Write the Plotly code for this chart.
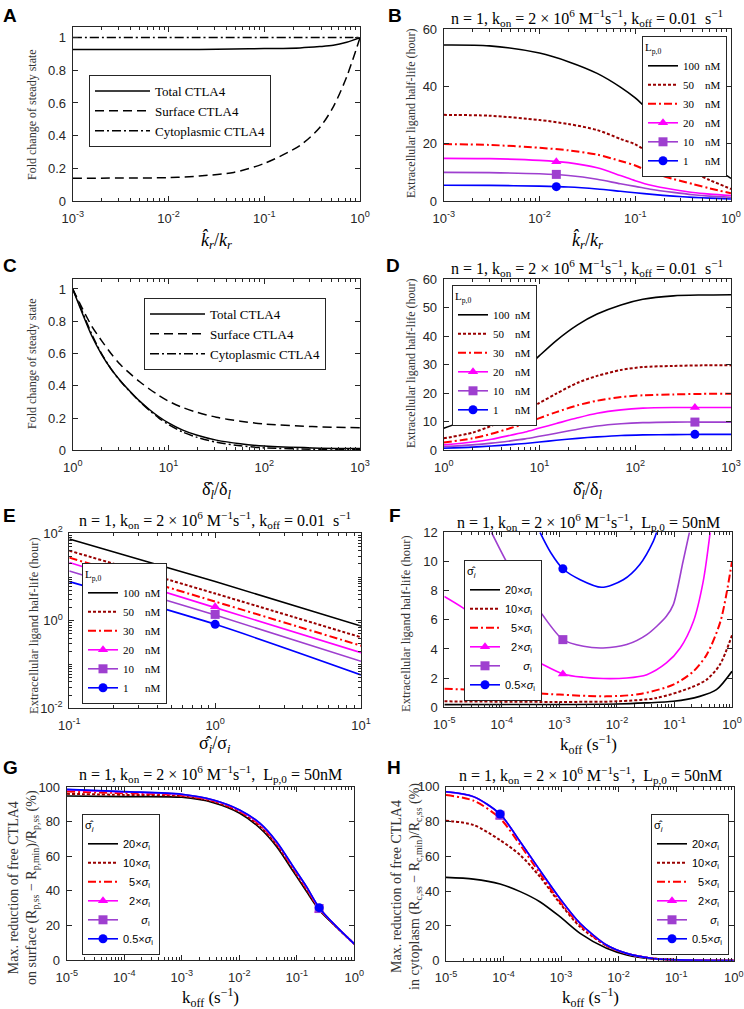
import plotly.graph_objects as go

W, H = 744, 1009
SERIF = "Liberation Serif, Times New Roman, serif"
SANS = "Liberation Sans, Arial, sans-serif"
FRAME = "#262626"
TXT = "#262626"

# ---------------- data ----------------
# Panel A
a_x = [0.001, 0.01, 0.021, 0.048, 0.1, 0.236, 0.38, 0.526, 0.726, 1.0]
a_total = [0.927, 0.927, 0.928, 0.930, 0.933, 0.937, 0.945, 0.953, 0.972, 1.0]
a_surface = [0.140, 0.143, 0.153, 0.175, 0.230, 0.340, 0.450, 0.576, 0.760, 1.0]
a_cyto = [1.0, 1.0, 1.0, 1.0, 1.0, 1.0, 1.0, 1.0, 1.0, 1.0]
ctla_names = ["Total CTLA4", "Surface CTLA4", "Cytoplasmic CTLA4"]

# Panel B
b_x = [0.001, 0.003, 0.01, 0.02, 0.04, 0.07, 0.1, 0.15, 0.25, 0.4, 0.6, 1.0]
b_100 = [54.5, 54.2, 51.7, 48.7, 44.6, 39.8, 36.0, 30.4, 23.1, 16.5, 12.8, 7.9]
b_50 = [30.1, 29.8, 28.3, 26.9, 24.8, 21.7, 19.8, 16.2, 12.8, 9.9, 7.3, 4.2]
b_30 = [19.9, 19.6, 18.6, 17.7, 16.2, 14.0, 12.4, 9.9, 7.7, 5.9, 4.4, 2.7]
b_20 = [14.9, 14.8, 14.2, 13.4, 11.6, 8.9, 7.1, 5.4, 4.0, 2.95, 2.4, 1.9]
b_10 = [10.0, 9.9, 9.5, 8.9, 7.6, 6.0, 5.1, 4.0, 3.0, 2.2, 1.7, 1.3]
b_1 = [5.5, 5.45, 5.2, 4.9, 4.2, 3.4, 2.9, 2.3, 1.7, 1.25, 1.0, 0.7]
b_mark_x = 0.015
b_mark_y = [13.7, 9.3, 5.0]

# Panel C
c_x = [1, 1.26, 1.58, 2.0, 2.51, 3.16, 3.98, 5.01, 6.31, 7.94, 10, 14.1, 20, 31.6, 56.2, 100, 316, 1000]
c_total = [1.0, 0.85, 0.71, 0.595, 0.505, 0.43, 0.365, 0.305, 0.253, 0.208, 0.17, 0.125, 0.093, 0.063,
           0.04, 0.026, 0.015, 0.011]
c_surface = [1.0, 0.88, 0.77, 0.68, 0.60, 0.53, 0.475, 0.425, 0.38, 0.34, 0.305, 0.265, 0.235, 0.205,
             0.18, 0.163, 0.147, 0.14]
c_cyto = [1.0, 0.86, 0.72, 0.60, 0.505, 0.428, 0.362, 0.302, 0.248, 0.20, 0.16, 0.113, 0.08, 0.05,
          0.028, 0.015, 0.007, 0.005]

# Panel D
d_x = [1, 2, 3.16, 5, 7.1, 10, 15, 25, 40, 71, 120, 250, 500, 1000]
d_100 = [7.7, 11.9, 17.5, 23.8, 28.5, 33.2, 38.5, 44.0, 47.8, 51.0, 53.0, 54.2, 54.5, 54.6]
d_50 = [4.2, 6.2, 8.6, 11.5, 13.9, 16.6, 19.9, 23.7, 26.1, 28.2, 29.2, 29.6, 29.8, 29.8]
d_30 = [2.7, 4.2, 5.8, 7.8, 9.4, 11.3, 13.4, 15.8, 17.4, 18.7, 19.3, 19.6, 19.8, 19.8]
d_20 = [1.9, 2.9, 3.9, 5.3, 6.4, 7.8, 9.4, 11.4, 13.0, 14.2, 14.8, 15.0, 15.0, 15.0]
d_10 = [1.3, 1.9, 2.5, 3.3, 4.0, 4.9, 6.0, 7.4, 8.5, 9.3, 9.7, 9.9, 9.9, 9.9]
d_1 = [0.7, 1.1, 1.5, 2.0, 2.4, 2.9, 3.5, 4.2, 4.7, 5.2, 5.4, 5.5, 5.6, 5.6]
d_mark_x = 420
d_mark_y = [15.0, 9.9, 5.6]

# Panel E
e_x = [0.1, 1.0, 10.0]
e_100 = [74.0, 7.9, 0.76]
e_50 = [40.0, 4.2, 0.42]
e_30 = [27.8, 2.75, 0.27]
e_20 = [21.4, 2.0, 0.187]
e_10 = [13.8, 1.35, 0.119]
e_1 = [7.86, 0.83, 0.058]
e_mark_x = 1.0
e_mark_y = [2.1, 1.4, 0.83]

conc_names = ["100\u00a0\u00a0nM", "50\u2007\u00a0\u00a0nM", "30\u2007\u00a0\u00a0nM",
              "20\u2007\u00a0\u00a0nM", "10\u2007\u00a0\u00a0nM", "1\u2007\u2007\u00a0\u00a0nM"]

# Panel F
f_x_05 = [4.6e-4, 7.1e-4, 1.15e-3, 2.3e-3, 5.4e-3, 0.0129, 0.025, 0.043, 0.049]
f_y_05 = [12.0, 10.6, 9.5, 8.75, 8.23, 8.75, 9.8, 11.4, 12.0]
f_x_1 = [6.6e-5, 1.2e-4, 2.34e-4, 4.57e-4, 1.15e-3, 2.63e-3, 5.75e-3, 0.0148, 0.0331, 0.0724, 0.0955, 0.141, 0.182]
f_y_1 = [12.0, 10.0, 8.07, 6.58, 4.64, 4.18, 4.07, 4.3, 4.98, 6.24, 7.04, 10.0, 12.0]
f_x_2 = [1e-5, 2.14e-5, 6.17e-5, 2.75e-4, 4.57e-4, 1.15e-3, 2.63e-3, 5.75e-3, 0.0148, 0.0331, 0.0724, 0.126, 0.214, 0.316, 0.417]
f_y_2 = [7.6, 6.8, 5.44, 3.5, 3.04, 2.29, 2.06, 1.97, 2.01, 2.24, 3.04, 4.07, 5.9, 8.64, 12.0]
f_x_5 = [1e-5, 1e-4, 1e-3, 6.6e-3, 0.025, 0.0955, 0.214, 0.363, 0.631, 1.0]
f_y_5 = [1.28, 1.1, 0.87, 0.75, 0.91, 1.55, 2.47, 3.61, 5.9, 10.0]
f_x_10 = [1e-5, 1e-3, 1e-2, 0.049, 0.186, 0.363, 0.617, 1.0]
f_y_10 = [0.41, 0.37, 0.41, 0.64, 1.33, 1.9, 2.93, 4.94]
f_x_20 = [1e-5, 1e-2, 0.0316, 0.0955, 0.275, 0.537, 1.0]
f_y_20 = [0.18, 0.23, 0.30, 0.41, 0.75, 1.21, 2.47]
f_mark_x = 1.15e-3
f_mark_y = [2.29, 4.64, 9.5]

sig_names = ["20×<i>σ</i><sub>i</sub>", "10×<i>σ</i><sub>i</sub>", "\u20075×<i>σ</i><sub>i</sub>",
             "\u20072×<i>σ</i><sub>i</sub>", "\u2007\u2007\u2007<i>σ</i><sub>i</sub>", "0.5×<i>σ</i><sub>i</sub>"]

# Panel G
g_x = [1e-5, 1e-4, 1e-3, 3.55e-3, 0.0102, 0.0229, 0.0447, 0.0871, 0.148, 0.245, 0.49, 1.0]
g_20 = [95.0, 94.6, 94.2, 91.1, 85.0, 76.3, 65.6, 51.2, 39.6, 29.0, 19.0, 9.3]
g_10 = [96.2, 95.6, 94.9, 91.7, 85.7, 77.3, 66.6, 52.3, 40.6, 29.5, 19.1, 9.3]
g_5 = [97.5, 96.6, 95.4, 92.2, 86.2, 78.2, 67.5, 53.2, 41.5, 29.9, 19.2, 9.3]
g_2 = [98.4, 97.3, 95.8, 92.5, 86.6, 78.8, 68.1, 53.7, 42.1, 30.1, 19.3, 9.3]
g_1 = [98.7, 97.4, 95.9, 92.6, 86.8, 79.0, 68.3, 53.9, 42.3, 30.2, 19.3, 9.3]
g_05 = [98.8, 97.5, 96.0, 92.7, 86.9, 79.2, 68.5, 54.0, 42.5, 30.3, 19.3, 9.3]
g_mark_x = 0.245
g_mark_y = [28.8, 29.8, 30.3]

# Panel H
h_x = [1e-5, 3.0e-5, 8.7e-5, 1.95e-4, 4.27e-4, 9.55e-4, 2.14e-3, 6.17e-3, 0.0138, 0.0398, 0.1, 1.0]
h_20 = [47.9, 46.9, 44.1, 39.7, 33.9, 25.3, 15.7, 7.1, 3.3, 1.0, 0.4, 0.1]
h_10 = [80.5, 78.0, 69.3, 60.7, 48.3, 33.0, 19.5, 8.6, 4.0, 1.3, 0.5, 0.1]
h_5 = [95.2, 92.0, 81.8, 66.5, 50.2, 33.9, 20.5, 8.6, 4.1, 1.3, 0.5, 0.1]
h_2 = [97.0, 94.2, 84.1, 68.2, 51.9, 35.6, 21.4, 9.0, 4.2, 1.3, 0.5, 0.1]
h_1 = [97.1, 94.3, 84.2, 68.3, 52.0, 35.7, 21.5, 9.0, 4.2, 1.3, 0.5, 0.1]
h_05 = [97.1, 94.3, 84.3, 68.4, 52.1, 35.8, 21.5, 9.0, 4.2, 1.3, 0.5, 0.1]
h_mark_x = 8.7e-5
h_mark_y = [82.6, 83.6, 84.3]

# tick labels
tick_kr = ["10<sup>-3</sup>", "10<sup>-2</sup>", "10<sup>-1</sup>", "10<sup>0</sup>"]
tick_dl = ["10<sup>0</sup>", "10<sup>1</sup>", "10<sup>2</sup>", "10<sup>3</sup>"]
tick_sig = ["10<sup>-1</sup>", "10<sup>0</sup>", "10<sup>1</sup>"]
tick_ey = ["10<sup>-2</sup>", "10<sup>0</sup>", "10<sup>2</sup>"]
tick_koff = ["10<sup>-5</sup>", "10<sup>-4</sup>", "10<sup>-3</sup>", "10<sup>-2</sup>", "10<sup>-1</sup>", "10<sup>0</sup>"]

# ---------------- styles ----------------
C_BLACK, C_DRED, C_RED, C_MAG, C_PUR, C_BLUE = "#000000", "#990000", "#FF0000", "#FF00FF", "#9E3FCF", "#0000FF"
DASH_DOT = "3px,2px"
DASH_DASHDOT = "8px,3px,2px,3px"

fig = go.Figure()


def px_x(p):
    return p / W


def px_y(p):
    return 1 - p / H


# plot area boxes (left, top, right, bottom) in pixels
boxes = {
    1: (72.7, 27, 360, 201),
    2: (443.7, 29.3, 731, 201),
    3: (72.7, 279.3, 360, 450.3),
    4: (443.7, 279.3, 731, 450.3),
    5: (69.3, 533.3, 361, 708.3),
    6: (444.3, 532.3, 732, 707.3),
    7: (66.7, 787.3, 354.3, 960),
    8: (446, 786.7, 733.7, 960.7),
}


def line(i, x, y, color, dash, width, name=None, legend=None, show=True):
    fig.add_trace(go.Scatter(
        x=x, y=y, mode="lines", name=name, legend=legend, showlegend=show and name is not None,
        line=dict(color=color, dash=dash, width=width, shape="spline", smoothing=0.8),
        xaxis="x%d" % i, yaxis="y%d" % i, hoverinfo="skip"))


def marked(i, x, y, mx, my, color, symbol, name, legend):
    line(i, x, y, color, "solid", 1.6, show=False)
    fig.add_trace(go.Scatter(
        x=[mx], y=[my], mode="lines+markers", name=name, legend=legend,
        marker=dict(symbol=symbol, size=9, color=color),
        line=dict(color=color, width=1.6),
        xaxis="x%d" % i, yaxis="y%d" % i, hoverinfo="skip", cliponaxis=False))


# Panel A
line(1, a_x, a_total, C_BLACK, "solid", 1.5, ctla_names[0], "legend")
line(1, a_x, a_surface, C_BLACK, "9px,5px", 1.5, ctla_names[1], "legend")
line(1, a_x, a_cyto, C_BLACK, "9px,3px,2px,3px", 1.5, ctla_names[2], "legend")

# Panel B
line(2, b_x, b_100, C_BLACK, "solid", 1.6, conc_names[0], "legend2")
line(2, b_x, b_50, C_DRED, DASH_DOT, 2, conc_names[1], "legend2")
line(2, b_x, b_30, C_RED, DASH_DASHDOT, 2, conc_names[2], "legend2")
marked(2, b_x, b_20, b_mark_x, b_mark_y[0], C_MAG, "triangle-up", conc_names[3], "legend2")
marked(2, b_x, b_10, b_mark_x, b_mark_y[1], C_PUR, "square", conc_names[4], "legend2")
marked(2, b_x, b_1, b_mark_x, b_mark_y[2], C_BLUE, "circle", conc_names[5], "legend2")

# Panel C
line(3, c_x, c_total, C_BLACK, "solid", 1.5, ctla_names[0], "legend3")
line(3, c_x, c_surface, C_BLACK, "9px,5px", 1.5, ctla_names[1], "legend3")
line(3, c_x, c_cyto, C_BLACK, "9px,3px,2px,3px", 1.5, ctla_names[2], "legend3")

# Panel D
line(4, d_x, d_100, C_BLACK, "solid", 1.6, conc_names[0], "legend4")
line(4, d_x, d_50, C_DRED, DASH_DOT, 2, conc_names[1], "legend4")
line(4, d_x, d_30, C_RED, DASH_DASHDOT, 2, conc_names[2], "legend4")
marked(4, d_x, d_20, d_mark_x, d_mark_y[0], C_MAG, "triangle-up", conc_names[3], "legend4")
marked(4, d_x, d_10, d_mark_x, d_mark_y[1], C_PUR, "square", conc_names[4], "legend4")
marked(4, d_x, d_1, d_mark_x, d_mark_y[2], C_BLUE, "circle", conc_names[5], "legend4")

# Panel E
line(5, e_x, e_100, C_BLACK, "solid", 1.6, conc_names[0], "legend5")
line(5, e_x, e_50, C_DRED, DASH_DOT, 2, conc_names[1], "legend5")
line(5, e_x, e_30, C_RED, DASH_DASHDOT, 2, conc_names[2], "legend5")
marked(5, e_x, e_20, e_mark_x, e_mark_y[0], C_MAG, "triangle-up", conc_names[3], "legend5")
marked(5, e_x, e_10, e_mark_x, e_mark_y[1], C_PUR, "square", conc_names[4], "legend5")
marked(5, e_x, e_1, e_mark_x, e_mark_y[2], C_BLUE, "circle", conc_names[5], "legend5")

# Panel F
line(6, f_x_20, f_y_20, C_BLACK, "solid", 1.6, sig_names[0], "legend6")
line(6, f_x_10, f_y_10, C_DRED, DASH_DOT, 2, sig_names[1], "legend6")
line(6, f_x_5, f_y_5, C_RED, DASH_DASHDOT, 2, sig_names[2], "legend6")
marked(6, f_x_2, f_y_2, f_mark_x, f_mark_y[0], C_MAG, "triangle-up", sig_names[3], "legend6")
marked(6, f_x_1, f_y_1, f_mark_x, f_mark_y[1], C_PUR, "square", sig_names[4], "legend6")
marked(6, f_x_05, f_y_05, f_mark_x, f_mark_y[2], C_BLUE, "circle", sig_names[5], "legend6")

# Panel G
line(7, g_x, g_20, C_BLACK, "solid", 1.6, sig_names[0], "legend7")
line(7, g_x, g_10, C_DRED, DASH_DOT, 2, sig_names[1], "legend7")
line(7, g_x, g_5, C_RED, DASH_DASHDOT, 2, sig_names[2], "legend7")
marked(7, g_x, g_2, g_mark_x, g_mark_y[0], C_MAG, "triangle-up", sig_names[3], "legend7")
marked(7, g_x, g_1, g_mark_x, g_mark_y[1], C_PUR, "square", sig_names[4], "legend7")
marked(7, g_x, g_05, g_mark_x, g_mark_y[2], C_BLUE, "circle", sig_names[5], "legend7")

# Panel H
line(8, h_x, h_20, C_BLACK, "solid", 1.6, sig_names[0], "legend8")
line(8, h_x, h_10, C_DRED, DASH_DOT, 2, sig_names[1], "legend8")
line(8, h_x, h_5, C_RED, DASH_DASHDOT, 2, sig_names[2], "legend8")
marked(8, h_x, h_2, h_mark_x, h_mark_y[0], C_MAG, "triangle-up", sig_names[3], "legend8")
marked(8, h_x, h_1, h_mark_x, h_mark_y[1], C_PUR, "square", sig_names[4], "legend8")
marked(8, h_x, h_05, h_mark_x, h_mark_y[2], C_BLUE, "circle", sig_names[5], "legend8")


# ---------------- axes ----------------
def base_axis():
    return dict(showline=True, linecolor=FRAME, linewidth=1, mirror="allticks", ticks="inside",
                ticklen=5, tickwidth=1, tickcolor=FRAME, showgrid=False, zeroline=False,
                automargin=False, tickfont=dict(family=SANS, size=13, color=TXT), fixedrange=True)


def log_axis(rng, vals, texts):
    d = base_axis()
    d.update(type="log", range=rng, tickmode="array", tickvals=vals, ticktext=texts,
             minor=dict(ticks="inside", ticklen=3, tickcolor=FRAME, dtick="D1", showgrid=False))
    return d


def lin_axis(rng, dtick):
    d = base_axis()
    d.update(type="linear", range=rng, tick0=0, dtick=dtick)
    return d


xcfg = {
    1: log_axis([-3, 0], [0.001, 0.01, 0.1, 1], tick_kr),
    2: log_axis([-3, 0], [0.001, 0.01, 0.1, 1], tick_kr),
    3: log_axis([0, 3], [1, 10, 100, 1000], tick_dl),
    4: log_axis([0, 3], [1, 10, 100, 1000], tick_dl),
    5: log_axis([-1, 1], [0.1, 1, 10], tick_sig),
    6: log_axis([-5, 0], [1e-5, 1e-4, 1e-3, 1e-2, 1e-1, 1], tick_koff),
    7: log_axis([-5, 0], [1e-5, 1e-4, 1e-3, 1e-2, 1e-1, 1], tick_koff),
    8: log_axis([-5, 0], [1e-5, 1e-4, 1e-3, 1e-2, 1e-1, 1], tick_koff),
}
ycfg = {
    1: lin_axis([0, 1.065], 0.2),
    2: lin_axis([0, 60], 20),
    3: lin_axis([0, 1.06], 0.2),
    4: lin_axis([0, 60], 10),
    5: log_axis([-2, 2], [0.01, 1, 100], tick_ey),
    6: lin_axis([0, 12], 2),
    7: lin_axis([0, 100], 20),
    8: lin_axis([0, 100], 20),
}

layout = dict(width=W, height=H, margin=dict(l=0, r=0, t=0, b=0, pad=0, autoexpand=False),
              paper_bgcolor="white", plot_bgcolor="white", showlegend=True, autosize=False)
for i in range(1, 9):
    L, T, R, B = boxes[i]
    xa = xcfg[i]
    xa.update(domain=[px_x(L), px_x(R)], anchor="y%d" % i, ticklabelstandoff=5)
    ya = ycfg[i]
    ya.update(domain=[px_y(B), px_y(T)], anchor="x%d" % i, ticklabelstandoff=3)
    layout["xaxis%s" % ("" if i == 1 else i)] = xa
    layout["yaxis%s" % ("" if i == 1 else i)] = ya


# ---------------- legends ----------------
def leg(x, y, xanchor, yanchor, family, size, title=None, itemwidth=30):
    d = dict(x=px_x(x), y=px_y(y), xanchor=xanchor, yanchor=yanchor, xref="paper", yref="paper",
             bgcolor="white", bordercolor=FRAME, borderwidth=1, itemwidth=itemwidth,
             font=dict(family=family, size=size, color="black"), tracegroupgap=0,
             itemclick=False, itemdoubleclick=False)
    if title:
        d["title"] = dict(text=title, font=dict(family=family, size=size, color="black"))
    return d


LP = "L<sub>p,0</sub>"
SH = "σ̂<sub><i>i</i></sub>"
layout["legend"] = leg(89, 75, "left", "top", SERIF, 13, itemwidth=55)
layout["legend2"] = leg(727, 36, "right", "top", SERIF, 11, LP)
layout["legend3"] = leg(144, 298, "left", "top", SERIF, 13, itemwidth=55)
layout["legend4"] = leg(452, 285, "left", "top", SERIF, 11, LP)
layout["legend5"] = leg(82, 704, "left", "bottom", SERIF, 11, LP)
layout["legend6"] = leg(464, 560, "left", "top", SANS, 11, SH)
layout["legend7"] = leg(82, 955, "left", "bottom", SANS, 11, SH)
layout["legend8"] = leg(729, 955, "right", "bottom", SANS, 11, SH)

# ---------------- annotations ----------------
ann = []


def text(x, y, s, size, family=SERIF, angle=0, color="black", xanchor="center", yanchor="middle"):
    ann.append(dict(x=px_x(x), y=px_y(y), xref="paper", yref="paper", text=s, showarrow=False,
                    font=dict(family=family, size=size, color=color), textangle=angle,
                    xanchor=xanchor, yanchor=yanchor))


# panel letters
for lab, (x, y) in zip("ABCDEFGH", [(1, 3), (386, 3), (1, 253), (384, 253),
                                    (1, 503), (387, 503), (1, 755), (385, 755)]):
    text(x, y, "<b>%s</b>" % lab, 19, SANS, xanchor="left", yanchor="top")

T1 = "n = 1, k<sub>on</sub> = 2 × 10<sup>6</sup> M<sup>−1</sup>s<sup>−1</sup>, k<sub>off</sub> = 0.01\u00a0\u00a0s<sup>−1</sup>"
T2 = "n = 1, k<sub>on</sub> = 2 × 10<sup>6</sup> M<sup>−1</sup>s<sup>−1</sup>,\u00a0 L<sub>p,0</sub> = 50nM"
text(587, 18, T1, 16)
text(587, 268, T1, 16)
text(215, 520, T1, 16)
text(588, 522, T2, 16)
text(210, 774, T2, 16)
text(590, 775, T2, 16)

YT = "Fold change of steady state"
YL = "Extracellular ligand half-life (hour)"
text(32, 115, YT, 12, angle=-90, color="#333333")
text(411, 113, YL, 12, angle=-90, color="#333333")
text(32, 364, YT, 12, angle=-90, color="#333333")
text(411, 363, YL, 12, angle=-90, color="#333333")
text(34, 626, YL, 12.5, angle=-90, color="#333333")
text(406, 623, YL, 12.5, angle=-90, color="#333333")
text(23, 888, "Max. reduction of free CTLA4<br>on surface (R<sub>p,ss</sub> − R<sub>p,min</sub>)/R<sub>p,ss</sub> (%)",
     14, angle=-90, color="#333333")
text(406, 886, "Max. reduction of free CTLA4<br>in cytoplasm (R<sub>c,ss</sub> − R<sub>c,min</sub>)/R<sub>c,ss</sub> (%)",
     14, angle=-90, color="#333333")

XK = "<i>k̂</i><sub><i>r</i></sub>/<i>k</i><sub><i>r</i></sub>"
XD = "δ̂<sub><i>l</i></sub>/δ<sub><i>l</i></sub>"
XS = "σ̂<sub><i>i</i></sub>/σ<sub><i>i</i></sub>"
XO = "k<sub>off</sub> (s<sup>−1</sup>)"
text(216, 240, XK, 18)
text(587, 240, XK, 18)
text(216, 490, XD, 18)
text(587, 490, XD, 18)
text(215, 744, XS, 18)
text(588, 744, XO, 17)
text(210, 997, XO, 17)
text(590, 997, XO, 17)

layout["annotations"] = ann
fig.update_layout(**layout)
fig.write_html("out.html", config={"displayModeBar": False, "staticPlot": True},
               post_script="document.body.style.margin='0px';")
